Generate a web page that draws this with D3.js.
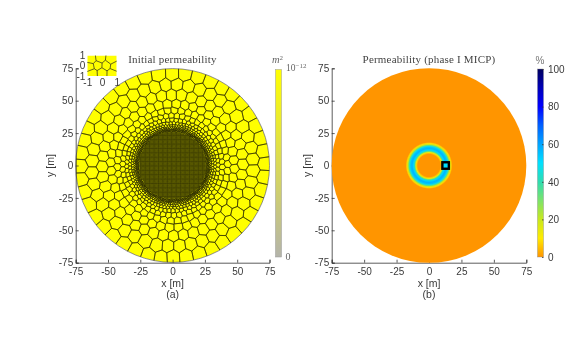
<!DOCTYPE html>
<html><head><meta charset="utf-8">
<script src="https://cdn.jsdelivr.net/npm/d3@7"></script>
<style>html,body{margin:0;padding:0;background:#fff}svg{display:block;filter:blur(.3px)}
text{font-family:"Liberation Sans",Arial,sans-serif;fill:#3a3a3a}
.ttl{font-family:"Liberation Serif",serif;font-size:11px;fill:#444;letter-spacing:.2px}
.ax text{font-size:10px;fill:#3a3a3a}.ax path,.ax line{stroke:#333;stroke-width:.8}
.gs{font-family:"Liberation Serif",serif;fill:#666}</style>
</head><body><svg id="c" width="581" height="342"></svg>
<script>
const axisTicks=[-75,-50,-25,0,25,50,75];
const ringRadii=[71,62,54,47.2,42,38,34.9,32.6,30.8,29.4,28.4,27.6,27];
const ringCounts=[44,44,44,44,50,58,68,80,94,112,132,154,178];
const ringPhase=[0.08,0.58,0.1,0.62,0.2,0.7,0.15,0.6,0.1,0.55,0.2,0.65,0.3];
const ringWobble=[0.7,-0.5,0.3,-0.8,0.5,0.1,-0.4,0.6,-0.2,-0.6,0.3,-0.1,0.75];
const coreRadius=26.4, coreSpacing=1.0;
const insetSeeds=[[-.72,.62],[-.12,.72],[.6,.6],[-.82,-.1],[-.3,.05],[.3,.02],[.85,-.1],[-.65,-.72],[0,-.68],[.68,-.7]];
const insetTicks=[-1,0,1];
const ringProfileR=[0,8.6,9.4,10,10.6,11.2,12,13,14,14.8,15.5,16.2,17,18,75];
const ringProfileV=[0,0,5,14,28,42,52,57,55,46,34,20,8,0,0];
const boxValue=50;
const cmapV=[0,10,20,30,40,50,60,70,80,90,100];
const cmapC=["#ff9500","#ffea00","#c8e81e","#7ce36a","#2fdcb0","#00e0ff","#00a4ff","#0060ff","#0000ff","#0000b8","#00005e"];
const rightTicks=[0,20,40,60,80,100];

const svg=d3.select("#c");
const yS=d3.scaleLinear().domain([-75,75]).range([262.7,68.3]);
const xL=d3.scaleLinear().domain([-75,75]).range([75.7,269.5]);
const xR=d3.scaleLinear().domain([-75,75]).range([331.7,526.3]);
const color=d3.scaleLinear().domain(cmapV).range(cmapC);
const defs=svg.append("defs");
const rPx=m=>xL(m)-xL(0);

const seeds=[];
ringRadii.forEach((r,i)=>{
  d3.range(ringCounts[i]).forEach(k=>{
    const a=(k+ringPhase[i])/ringCounts[i]*2*Math.PI;
    const w=ringWobble[(k*5+i)%ringWobble.length]*r/70;
    seeds.push([xL(0)+rPx(r+w)*Math.cos(a+w*0.012),yS(0)-rPx(r+w)*Math.sin(a+w*0.012)]);
  });
});
const nRing=seeds.length;
for(let x=-coreRadius;x<=coreRadius;x+=coreSpacing)for(let y=-coreRadius;y<=coreRadius;y+=coreSpacing){
  if(x*x+y*y<coreRadius*coreRadius) seeds.push([xL(x),yS(y)]);
}
defs.append("clipPath").attr("id","dl").append("circle").attr("cx",xL(0)).attr("cy",yS(0)).attr("r",rPx(75));
const vor=d3.Delaunay.from(seeds).voronoi([60,50,290,280]);
const gL=svg.append("g").attr("clip-path","url(#dl)");
gL.append("circle").attr("cx",xL(0)).attr("cy",yS(0)).attr("r",rPx(75)).attr("fill","#ffff00");
gL.append("path").attr("d",d3.range(nRing).map(i=>vor.renderCell(i)).join("")).attr("fill","none").attr("stroke","#2a2a00").attr("stroke-width",.6);
gL.append("path").attr("d",d3.range(nRing,seeds.length).map(i=>vor.renderCell(i)).join("")).attr("fill","none").attr("stroke","#1c1c00").attr("stroke-width",.42);
svg.append("circle").attr("cx",xL(0)).attr("cy",yS(0)).attr("r",rPx(75)).attr("fill","none").attr("stroke","#444").attr("stroke-width",.6);

const fmt=d=>String(d);
function axes(x,lx,sub){
  const b=svg.append("g").attr("class","ax").attr("transform",`translate(0,${yS(-75)})`)
    .call(d3.axisBottom(x).tickValues(axisTicks).tickSize(-3).tickFormat(fmt));
  b.selectAll("text").attr("y",5).attr("dy","0.72em");
  const l=svg.append("g").attr("class","ax").attr("transform",`translate(${x(-75)},0)`)
    .call(d3.axisLeft(yS).tickValues(axisTicks).tickSize(-3).tickFormat(fmt));
  l.selectAll("text").attr("x",-2.5);
  svg.append("text").attr("x",x(0)).attr("y",286.5).attr("text-anchor","middle").attr("font-size",10.5).text("x [m]");
  svg.append("text").attr("x",x(0)).attr("y",298).attr("text-anchor","middle").attr("font-size",10.5).text(sub);
  svg.append("text").attr("transform",`translate(${lx},${yS(0)}) rotate(-90)`).attr("text-anchor","middle").attr("font-size",10.5).text("y [m]");
}
axes(xL,54,"(a)");
axes(xR,311,"(b)");

svg.append("text").attr("class","ttl").attr("x",172.5).attr("y",63).attr("text-anchor","middle").text("Initial permeability");
svg.append("text").attr("class","ttl").attr("x",429).attr("y",63).attr("text-anchor","middle").text("Permeability (phase I MICP)");

const ix=d3.scaleLinear().domain([-1,1]).range([87.3,116.7]);
const iy=d3.scaleLinear().domain([-1,1]).range([76,55.5]);
defs.append("clipPath").attr("id","ic").append("rect").attr("x",ix(-1)).attr("y",iy(1)).attr("width",ix(1)-ix(-1)).attr("height",iy(-1)-iy(1));
const gI=svg.append("g").attr("clip-path","url(#ic)");
gI.append("rect").attr("x",ix(-1)).attr("y",iy(1)).attr("width",ix(1)-ix(-1)).attr("height",iy(-1)-iy(1)).attr("fill","#ffff00");
const iv=d3.Delaunay.from(insetSeeds.map(d=>[ix(d[0]),iy(d[1])])).voronoi([ix(-1)-5,iy(1)-5,ix(1)+5,iy(-1)+5]);
gI.append("path").attr("d",iv.render()).attr("fill","none").attr("stroke","#222").attr("stroke-width",.7);
const ib=svg.append("g").attr("class","ax").attr("transform",`translate(0,${iy(-1)})`).call(d3.axisBottom(ix).tickValues(insetTicks).tickSize(0).tickFormat(fmt));
ib.select("path").remove(); ib.selectAll("text").attr("y",3).attr("dy","0.72em");
const il=svg.append("g").attr("class","ax").attr("transform",`translate(${ix(-1)},0)`).call(d3.axisLeft(iy).tickValues(insetTicks).tickSize(0).tickFormat(fmt));
il.select("path").remove(); il.selectAll("text").attr("x",-2);

const cbY=d3.scaleLinear().domain([0,1]).range([257,69.5]);
const lg=defs.append("linearGradient").attr("id","lg").attr("x1",0).attr("x2",0).attr("y1",1).attr("y2",0);
lg.append("stop").attr("offset",0).attr("stop-color","#b4b4aa");
lg.append("stop").attr("offset",1).attr("stop-color","#ffff00");
svg.append("rect").attr("x",275.5).attr("y",cbY(1)).attr("width",6).attr("height",cbY(0)-cbY(1)).attr("fill","url(#lg)").attr("stroke","#999").attr("stroke-width",.5);
const gl=svg.append("text").attr("class","gs").attr("x",286).attr("y",71).attr("font-size",9.5);
gl.append("tspan").text("10");
gl.append("tspan").attr("dy",-3.5).attr("font-size",7).text("−12");
svg.append("text").attr("class","gs").attr("x",285.5).attr("y",259.5).attr("font-size",10).text("0");
const m2=svg.append("text").attr("class","gs").attr("x",272).attr("y",63).attr("font-style","italic").attr("font-size",10.5);
m2.append("tspan").text("m");
m2.append("tspan").attr("dy",-3).attr("font-size",7).attr("font-style","normal").text("2");

const rr=d3.max(ringProfileR);
const rg=defs.append("radialGradient").attr("id","rg").attr("gradientUnits","userSpaceOnUse")
  .attr("cx",xR(0)).attr("cy",yS(0)).attr("r",xR(rr)-xR(0));
ringProfileR.forEach((r,i)=>rg.append("stop").attr("offset",r/rr).attr("stop-color",color(ringProfileV[i])));
svg.append("circle").attr("cx",xR(0)).attr("cy",yS(0)).attr("r",xR(75)-xR(0)).attr("fill","url(#rg)");
const bc=[12.8,0],bs=5;
svg.append("rect").attr("x",xR(bc[0]-bs/2)).attr("y",yS(bc[1]+bs/2)).attr("width",xR(bs)-xR(0)).attr("height",yS(0)-yS(bs))
  .attr("fill",color(boxValue)).attr("stroke","#000").attr("stroke-width",2.4);

const cbR=d3.scaleLinear().domain([0,100]).range([257,69]);
const rg2=defs.append("linearGradient").attr("id","cb").attr("x1",0).attr("x2",0).attr("y1",1).attr("y2",0);
cmapV.forEach((v,i)=>rg2.append("stop").attr("offset",v/100).attr("stop-color",cmapC[i]));
svg.append("rect").attr("x",537.5).attr("y",cbR(100)).attr("width",6).attr("height",cbR(0)-cbR(100)).attr("fill","url(#cb)").attr("stroke","#888").attr("stroke-width",.4);
const ra=svg.append("g").attr("class","ax").attr("transform","translate(543.5,0)").call(d3.axisRight(cbR).tickValues(rightTicks).tickSize(-1.5));
ra.select("path").remove();
ra.selectAll("text").attr("x",4.5);
svg.append("text").attr("x",540).attr("y",64).attr("text-anchor","middle").attr("font-size",10).attr("style","fill:#777").text("%");
</script></body></html>
